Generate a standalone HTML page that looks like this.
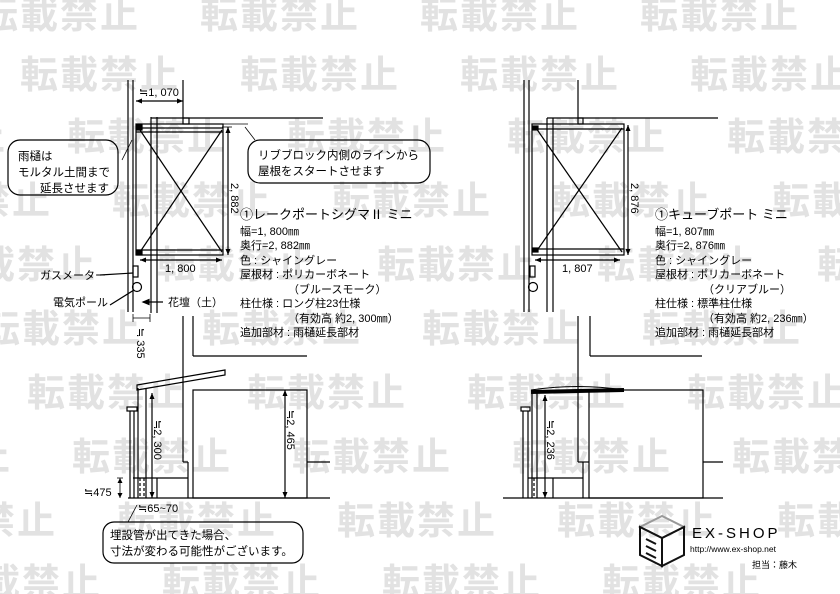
<!DOCTYPE html>
<html><head><meta charset="utf-8"><style>
html,body{margin:0;padding:0;background:#fff;}
svg{display:block;}
.wm{font-family:"Liberation Sans","Noto Sans CJK JP",sans-serif;font-size:38px;font-weight:bold;fill:#e2e2e2;letter-spacing:2px;}
.t{font-family:"Liberation Sans","Noto Sans CJK JP",sans-serif;font-size:11px;fill:#000;}
.h{font-family:"Liberation Sans","Noto Sans CJK JP",sans-serif;font-size:13px;fill:#000;}
.c{font-family:"Liberation Sans","Noto Sans CJK JP",sans-serif;font-size:11.5px;fill:#000;}
</style></head><body>
<svg width="840" height="594" viewBox="0 0 840 594" xmlns="http://www.w3.org/2000/svg">
<g class="wm">
<text x="-20" y="28">転載禁止</text><text x="200" y="28">転載禁止</text><text x="420" y="28">転載禁止</text><text x="640" y="28">転載禁止</text>
<text x="20" y="88">転載禁止</text><text x="240" y="88">転載禁止</text><text x="460" y="88">転載禁止</text><text x="690" y="88">転載禁止</text>
<text x="-153" y="150">転載禁止</text><text x="67" y="150">転載禁止</text><text x="287" y="150">転載禁止</text><text x="507" y="150">転載禁止</text><text x="727" y="150">転載禁止</text>
<text x="-108" y="214">転載禁止</text><text x="112" y="214">転載禁止</text><text x="332" y="214">転載禁止</text><text x="552" y="214">転載禁止</text><text x="772" y="214">転載禁止</text>
<text x="-63" y="278">転載禁止</text><text x="157" y="278">転載禁止</text><text x="377" y="278">転載禁止</text><text x="597" y="278">転載禁止</text><text x="817" y="278">転載禁止</text>
<text x="-18" y="342">転載禁止</text><text x="202" y="342">転載禁止</text><text x="422" y="342">転載禁止</text><text x="642" y="342">転載禁止</text>
<text x="27" y="406">転載禁止</text><text x="247" y="406">転載禁止</text><text x="467" y="406">転載禁止</text><text x="687" y="406">転載禁止</text>
<text x="-148" y="470">転載禁止</text><text x="72" y="470">転載禁止</text><text x="292" y="470">転載禁止</text><text x="512" y="470">転載禁止</text><text x="732" y="470">転載禁止</text>
<text x="-103" y="534">転載禁止</text><text x="117" y="534">転載禁止</text><text x="337" y="534">転載禁止</text><text x="557" y="534">転載禁止</text><text x="777" y="534">転載禁止</text>
<text x="-58" y="596">転載禁止</text><text x="162" y="596">転載禁止</text><text x="382" y="596">転載禁止</text><text x="602" y="596">転載禁止</text>
</g>

<g stroke="#000" fill="none" stroke-width="1.2">
<line x1="128" y1="80" x2="128" y2="312"/><line x1="133" y1="80" x2="133" y2="312"/>
<line x1="151" y1="117" x2="151" y2="313"/><line x1="157" y1="117" x2="157" y2="313"/>
<line x1="183" y1="80" x2="183" y2="118"/>
<line x1="151" y1="118" x2="323" y2="118"/>
<rect x="183" y="118" width="6" height="6"/>
<rect x="136" y="124" width="87" height="131"/>
<line x1="136" y1="128" x2="223" y2="128"/><line x1="136" y1="132" x2="223" y2="132"/>
<line x1="136" y1="250" x2="223" y2="250"/>
<line x1="140" y1="130" x2="222" y2="252"/><line x1="222" y1="130" x2="140" y2="252"/>
<rect x="137" y="125" width="5" height="5" fill="#000"/><rect x="137" y="250" width="5" height="5" fill="#000"/>
<line x1="228" y1="127" x2="228" y2="255"/>
<line x1="222" y1="127" x2="232" y2="127" stroke-width="0.8"/>
<line x1="140" y1="260" x2="222" y2="260"/>
<line x1="136" y1="101" x2="183" y2="101"/>
<line x1="245" y1="127" x2="255" y2="140" stroke-width="0.8"/>
<line x1="223" y1="124" x2="248" y2="124" stroke-width="0.8"/>
<line x1="132" y1="140" x2="122" y2="160" stroke-width="0.8"/>
<rect x="133" y="266" width="5" height="11"/>
<circle cx="137" cy="287" r="4.5"/>
<line x1="100" y1="275" x2="133" y2="273"/>
<line x1="110" y1="305" x2="134" y2="290"/>
<line x1="143" y1="302" x2="163" y2="302"/>
<path d="M143 302 l6 -2.5 v5 z" fill="#000"/>
<line x1="183" y1="316" x2="183" y2="462"/><line x1="183" y1="462" x2="188" y2="462"/><line x1="188" y1="462" x2="188" y2="498"/>
<line x1="193" y1="316" x2="193" y2="356"/><line x1="193" y1="356" x2="307" y2="356"/>
<line x1="133" y1="318" x2="150" y2="318" stroke-width="0.8"/>
<line x1="133" y1="314" x2="133" y2="322" stroke-width="0.8"/><line x1="150" y1="314" x2="150" y2="322" stroke-width="0.8"/>
<rect x="8" y="140" width="110" height="55" rx="12"/>
<rect x="248" y="140" width="182" height="43" rx="12"/>
<rect x="103" y="522" width="200" height="41" rx="11"/>
<line x1="128" y1="522" x2="137" y2="505" stroke-width="0.8"/>

<line x1="128" y1="498" x2="330" y2="498"/>
<path d="M137 385 L225 370 L225 375 L137 390 Z" stroke-width="1.2"/>
<line x1="138" y1="388" x2="138" y2="498"/><line x1="146" y1="388" x2="146" y2="498"/>
<line x1="140" y1="478" x2="140" y2="498" stroke-dasharray="3 2"/><line x1="144" y1="478" x2="144" y2="498" stroke-dasharray="3 2"/>
<line x1="130" y1="411" x2="130" y2="498"/><line x1="134" y1="411" x2="134" y2="498"/>
<rect x="127" y="407" width="10" height="4"/>
<line x1="133" y1="478" x2="188" y2="478"/><line x1="157" y1="478" x2="157" y2="498"/>
<rect x="193" y="390" width="114" height="108"/>
<line x1="307" y1="462" x2="330" y2="462"/>
<line x1="152" y1="393" x2="152" y2="498"/>
<line x1="285" y1="390" x2="285" y2="498"/>
<line x1="120" y1="478" x2="120" y2="498" stroke-width="0.8"/>
<line x1="117" y1="478" x2="123" y2="478" stroke-width="0.8"/>

<line x1="524" y1="80" x2="524" y2="312"/><line x1="529" y1="80" x2="529" y2="312"/>
<line x1="547" y1="118" x2="547" y2="312"/><line x1="553" y1="118" x2="553" y2="312"/>
<line x1="578" y1="80" x2="578" y2="118"/>
<line x1="547" y1="118" x2="718" y2="118"/>
<rect x="578" y="118" width="5" height="6"/>
<rect x="532" y="124" width="92" height="131"/>
<line x1="532" y1="129" x2="624" y2="129"/><line x1="532" y1="249" x2="624" y2="249"/>
<line x1="536" y1="128" x2="622" y2="252"/><line x1="622" y1="128" x2="536" y2="252"/>
<rect x="533" y="126" width="5" height="4" fill="#000"/><rect x="533" y="248" width="5" height="4" fill="#000"/>
<line x1="628" y1="125" x2="628" y2="255"/>
<line x1="535" y1="260" x2="620" y2="260"/>
<rect x="530" y="266" width="5" height="11"/>
<circle cx="533" cy="287" r="4.5"/>
<line x1="578" y1="316" x2="578" y2="462"/><line x1="578" y1="462" x2="589" y2="462"/>
<line x1="590" y1="316" x2="590" y2="356"/><line x1="590" y1="356" x2="702" y2="356"/>

<line x1="503" y1="498" x2="723" y2="498"/>
<path d="M531 390 Q578 383 624 390" stroke-width="1"/>
<line x1="531" y1="392" x2="624" y2="390" stroke-width="4"/>
<line x1="532" y1="392" x2="532" y2="498"/><line x1="537" y1="392" x2="537" y2="498"/>
<line x1="534" y1="478" x2="534" y2="498" stroke-dasharray="3 2"/>
<line x1="523" y1="411" x2="523" y2="498"/><line x1="528" y1="411" x2="528" y2="498"/>
<rect x="521" y="407" width="9" height="4"/>
<line x1="528" y1="478" x2="583" y2="478"/><line x1="553" y1="478" x2="553" y2="498"/><line x1="583" y1="462" x2="583" y2="498"/>
<rect x="589" y="390" width="114" height="108"/>
<line x1="703" y1="462" x2="723" y2="462"/>
<line x1="545" y1="395" x2="545" y2="498"/>

<path d="M640 527 L662 516 L684 527 L662 538 Z" stroke="#999" stroke-width="2"/>
<path d="M640 527 L640 555 L662 566 L662 538 Z" stroke="#111" stroke-width="2"/>
<path d="M662 538 L684 527 L684 555 L662 566 Z" stroke="#111" stroke-width="2"/>
<path d="M646 539 l10 5 M646 546 l10 5 M646 553 l10 5" stroke="#111" stroke-width="2"/>
</g>
<g fill="#000">
<path d="M228 127 l-2.5 6 h5z M228 255 l-2.5 -6 h5z M140 260 l6 -2.5 v5z M222 260 l-6 -2.5 v5z M136 101 l6 -2.5 v5z M183 101 l-6 -2.5 v5z"/>
<path d="M628 125 l-2.5 6 h5z M628 255 l-2.5 -6 h5z M535 260 l6 -2.5 v5z M620 260 l-6 -2.5 v5z"/>
<path d="M152 393 l-2.5 6 h5z M152 498 l-2.5 -6 h5z M285 390 l-2.5 6 h5z M285 498 l-2.5 -6 h5z M545 395 l-2.5 6 h5z M545 498 l-2.5 -6 h5z"/>
<path d="M120 478 l-2.5 5 h5z M120 498 l-2.5 -5 h5z"/>
</g>

<g class="t">
<text x="139" y="96">≒1, 070</text>
<text x="165" y="272">1, 800</text>
<text x="562" y="272">1, 807</text>
<text transform="translate(231,183) rotate(90)">2, 882</text>
<text transform="translate(631,183) rotate(90)">2, 876</text>
<text transform="translate(137,328) rotate(90)">≒ 335</text>
<text transform="translate(154,420) rotate(90)">≒2, 300</text>
<text transform="translate(287,410) rotate(90)">≒2, 465</text>
<text transform="translate(547,420) rotate(90)">≒2, 236</text>
<text x="84" y="496">≒475</text>
<text x="138" y="512">≒65~70</text>
<text x="40" y="279">ガスメーター</text>
<text x="53" y="306">電気ポール</text>
<text x="168" y="306">花壇（土）</text>
</g>
<g class="c">
<text x="18" y="160">雨樋は</text>
<text x="18" y="176">モルタル土間まで</text>
<text x="40" y="192">延長させます</text>
<text x="258" y="159">リブブロック内側のラインから</text>
<text x="258" y="175">屋根をスタートさせます</text>
<text x="110" y="539">埋設管が出てきた場合、</text>
<text x="110" y="555">寸法が変わる可能性がございます。</text>
</g>
<g class="t">
<text class="h" x="240" y="219">①レークポートシグマⅡ ミニ</text>
<text x="240" y="235">幅=1, 800㎜</text>
<text x="240" y="249">奥行=2, 882㎜</text>
<text x="240" y="264">色 : シャイングレー</text>
<text x="240" y="278">屋根材 : ポリカーボネート</text>
<text x="288" y="293">（ブルースモーク）</text>
<text x="240" y="307">柱仕様 : ロング柱23仕様</text>
<text x="288" y="322">（有効高  約2, 300㎜）</text>
<text x="240" y="336">追加部材 : 雨樋延長部材</text>
<text class="h" x="655" y="219">①キューブポート  ミニ</text>
<text x="655" y="235">幅=1, 807㎜</text>
<text x="655" y="249">奥行=2, 876㎜</text>
<text x="655" y="264">色 : シャイングレー</text>
<text x="655" y="278">屋根材 : ポリカーボネート</text>
<text x="703" y="293">（クリアブルー）</text>
<text x="655" y="307">柱仕様 : 標準柱仕様</text>
<text x="703" y="322">（有効高  約2, 236㎜）</text>
<text x="655" y="336">追加部材 : 雨樋延長部材</text>
</g>
<text x="692" y="538" font-family="Liberation Sans, sans-serif" font-size="15" letter-spacing="3" fill="#000">EX-SHOP</text>
<text x="690" y="552" font-family="Liberation Sans, sans-serif" font-size="8.5" fill="#000">http://www.ex-shop.net</text>
<text x="752" y="568" font-family="Liberation Sans, Noto Sans CJK JP, sans-serif" font-size="9" fill="#000">担当：藤木</text>
</svg>
</body></html>
